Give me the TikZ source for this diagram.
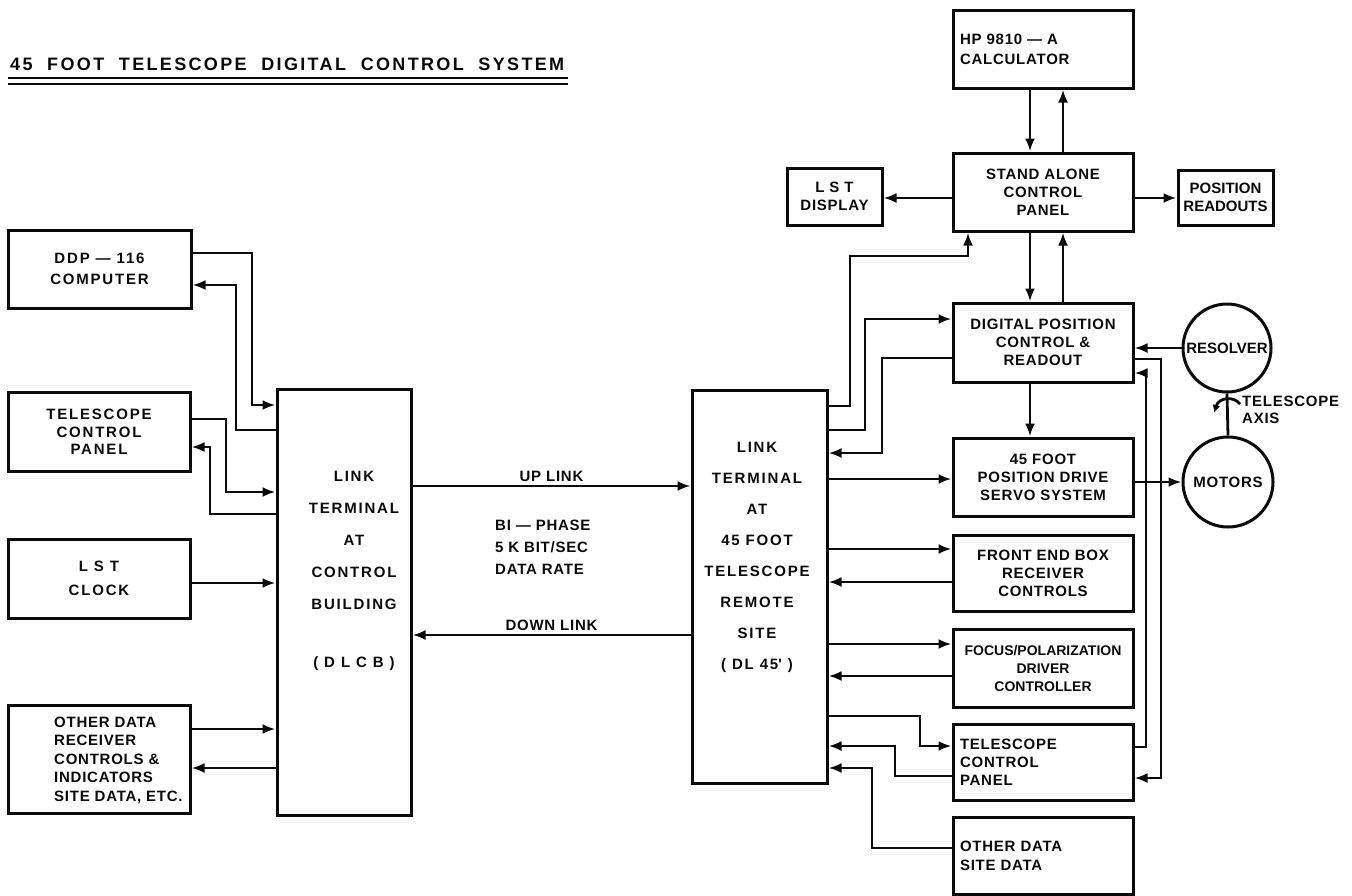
\documentclass[tikz,border=0pt]{standalone}
\usepackage{fontspec}
\setmainfont{Liberation Sans}
\newfontfamily\plainlet[LetterSpace=5]{Liberation Sans}
\newfontfamily\widelet[LetterSpace=12]{Liberation Sans}
\newfontfamily\titlelet[LetterSpace=13,WordSpace=2]{Liberation Sans}
\usetikzlibrary{arrows.meta,positioning}
\definecolor{Ink}{HTML}{0A0A0A}
\tikzset{
  unit/.style={draw=Ink, line width=3pt, inner sep=7pt, align=center, text=Ink,
               font=\plainlet\bfseries\fontsize{15pt}{18pt}\selectfont, minimum width=180pt},
  tall/.style={draw=Ink, line width=3pt, inner sep=0pt},
  disc/.style={circle, draw=Ink, line width=3pt, inner sep=0pt, text=Ink,
               font=\plainlet\bfseries\fontsize{15pt}{18pt}\selectfont},
  tag/.style={inner sep=2pt, text=Ink, font=\plainlet\bfseries\fontsize{15pt}{18pt}\selectfont},
  widetag/.style={inner sep=0pt, text=Ink, align=center, font=\widelet\bfseries\fontsize{15pt}{18pt}\selectfont},
  wire/.style={draw=Ink, line width=2.8pt},
  feed/.style={wire, -{Latex[length=13pt,width=10pt]}},
}

\begin{document}
\begin{tikzpicture}[x=1pt, y=-1pt]
  \useasboundingbox (0,0) rectangle (1352,895);

  % heading
  \node[anchor=base west, inner sep=0pt, text=Ink, font=\titlelet\bfseries\fontsize{18pt}{20pt}\selectfont]
    (heading) at (10,70) {45 FOOT TELESCOPE DIGITAL CONTROL SYSTEM};
  \draw[draw=Ink, line width=2.4pt, double, double distance=3.6pt] (8,81) -- (568,81);

  % control building side
  \node[unit, font=\widelet\bfseries\fontsize{15pt}{18pt}\selectfont, minimum width=183pt, minimum height=78pt] (ddp) at (99.5,269) {DDP — 116\\[3pt]COMPUTER};
  \node[unit, font=\widelet\bfseries\fontsize{15pt}{17.5pt}\selectfont, minimum width=182pt, minimum height=79pt] (tcpL) at (99,432) {TELESCOPE\\CONTROL\\PANEL};
  \node[unit, font=\widelet\bfseries\fontsize{15pt}{24pt}\selectfont, minimum width=182pt, minimum height=79pt] (clock) at (99,578.5) {L S T\\CLOCK};
  \node[tall, minimum width=182pt, minimum height=108pt] (otherL) at (99,759) {};
  \node[tag, inner sep=0pt, align=left, anchor=west, font=\plainlet\bfseries\fontsize{15pt}{18.5pt}\selectfont]
    (otherLtxt) at (54,760) {OTHER DATA\\RECEIVER\\CONTROLS \&\\INDICATORS\\SITE DATA, ETC.};

  \node[tall, minimum width=134pt, minimum height=426pt] (dlcb) at (344,602) {};
  \node[widetag, font=\widelet\bfseries\fontsize{15pt}{32pt}\selectfont] (dlcbtxt) at (354,571)
    {LINK\\TERMINAL\\AT\\CONTROL\\BUILDING\\[26pt]( D L C B )};

  \node[tall, minimum width=135pt, minimum height=393pt] (dl45) at (759.5,586.5) {};
  \node[widetag, font=\widelet\bfseries\fontsize{15pt}{31pt}\selectfont] (dl45txt) at (757,557)
    {LINK\\TERMINAL\\AT\\45 FOOT\\TELESCOPE\\REMOTE\\SITE\\( DL 45{\textquotesingle} )};

  % telescope side
  \node[unit, align=left, text width=166pt, font=\plainlet\bfseries\fontsize{15pt}{20pt}\selectfont, minimum height=78pt] (hp) at (1043,49) {HP 9810 — A\\CALCULATOR};
  \node[unit, minimum height=78pt] (sacp) at (1043,192) {STAND ALONE\\CONTROL\\PANEL};
  \node[unit, minimum width=95pt, minimum height=57pt, inner sep=2pt] (lstd) at (834.5,196.5) {L S T\\DISPLAY};
  \node[unit, minimum width=95pt, minimum height=55pt, inner sep=2pt, font=\bfseries\fontsize{15pt}{18pt}\selectfont] (posr) at (1225.5,197.5) {POSITION\\READOUTS};
  \node[unit, minimum height=79pt] (dpc) at (1043,342.5) {DIGITAL POSITION\\CONTROL \&\\READOUT};
  \node[unit, minimum height=78pt] (servo) at (1043,477) {45 FOOT\\POSITION DRIVE\\SERVO SYSTEM};
  \node[unit, minimum height=76pt] (front) at (1043,573) {FRONT END BOX\\RECEIVER\\CONTROLS};
  \node[unit, minimum height=78pt, inner sep=2pt, font=\bfseries\fontsize{14pt}{18pt}\selectfont] (focus) at (1043,668) {FOCUS/POLARIZATION\\DRIVER\\CONTROLLER};
  \node[unit, align=left, text width=166pt, minimum height=76pt] (tcpR) at (1043,762) {TELESCOPE\\CONTROL\\PANEL};
  \node[unit, align=left, text width=166pt, minimum height=77pt, font=\plainlet\bfseries\fontsize{15pt}{19pt}\selectfont] (otherR) at (1043,855.5) {OTHER DATA\\SITE DATA\\[14pt]};
  \node[disc, minimum size=88pt, font=\bfseries\fontsize{15pt}{18pt}\selectfont] (resolver) at (1227,348) {RESOLVER};
  \node[disc, minimum size=90pt] (motors) at (1228,482) {MOTORS};
  \node[tag, inner sep=0pt, align=left, anchor=west, font=\plainlet\bfseries\fontsize{15pt}{17pt}\selectfont] (axislbl) at (1242,410) {TELESCOPE\\AXIS};

  % control building links
  \draw[feed] (ddp.east |- 0,253) -| (252,405) -- (dlcb.west |- 0,405);
  \draw[feed] (dlcb.west |- 0,430) -| (236,285) -- (ddp.east |- 0,285);
  \draw[feed] (tcpL.east |- 0,419) -| (226,492) -- (dlcb.west |- 0,492);
  \draw[feed] (dlcb.west |- 0,514) -| (210,447) -- (tcpL.east |- 0,447);
  \draw[feed] (clock.east |- 0,583) -- (dlcb.west |- 0,583);
  \draw[feed] (otherL.east |- 0,729) -- (dlcb.west |- 0,729);
  \draw[feed] (dlcb.west |- 0,768) -- (otherL.east |- 0,768);

  % up and down link
  \draw[feed] (dlcb.east |- 0,486) -- (dl45.west |- 0,486) node[tag, midway, above=1pt] {UP LINK};
  \draw[feed] (dl45.west |- 0,635) -- (dlcb.east |- 0,635) node[tag, midway, above=1pt] {DOWN LINK};
  \node[tag, inner sep=0pt, align=left, anchor=west, font=\plainlet\bfseries\fontsize{15pt}{22pt}\selectfont]
    (rate) at (495,547) {BI — PHASE\\5 K BIT/SEC\\DATA RATE};

  % telescope site links
  \draw[feed] (hp.south -| 1030,0) -- (sacp.north -| 1030,0);
  \draw[feed] (sacp.north -| 1063,0) -- (hp.south -| 1063,0);
  \draw[feed] (sacp.south -| 1030,0) -- (dpc.north -| 1030,0);
  \draw[feed] (dpc.north -| 1063,0) -- (sacp.south -| 1063,0);
  \draw[feed] (dpc.south -| 1030,0) -- (servo.north -| 1030,0);
  \draw[feed] (sacp.west |- 0,198) -- (lstd.east |- 0,198);
  \draw[feed] (sacp.east |- 0,198) -- (posr.west |- 0,198);
  \draw[feed] (dl45.east |- 0,406) -| (850,256) -| (sacp.south -| 968,0);
  \draw[feed] (dl45.east |- 0,430) -| (865,319) -- (dpc.west |- 0,319);
  \draw[feed] (dpc.west |- 0,358) -| (882,453) -- (dl45.east |- 0,453);
  \draw[feed] (dl45.east |- 0,479) -- (servo.west |- 0,479);
  \draw[feed] (servo.east |- motors.west) -- (motors.west);
  \draw[feed] (resolver.west) -- (dpc.east |- resolver.west);
  \draw[wire] (resolver.south) -- (motors.north);
  \draw[wire, -{Latex[length=8pt,width=8pt]}] (1240,404) .. controls (1234,396) and (1219,397) .. (1214,413);
  \draw[feed] (dpc.east |- 0,359) -| (1161,778) -- (tcpR.east |- 0,778);
  \draw[feed] (tcpR.east |- 0,747) -| (1146,373) -- (dpc.east |- 0,373);
  \draw[feed] (dl45.east |- 0,549) -- (front.west |- 0,549);
  \draw[feed] (front.west |- 0,582) -- (dl45.east |- 0,582);
  \draw[feed] (dl45.east |- 0,644) -- (focus.west |- 0,644);
  \draw[feed] (focus.west |- 0,676) -- (dl45.east |- 0,676);
  \draw[feed] (dl45.east |- 0,716) -| (920,746) -- (tcpR.west |- 0,746);
  \draw[feed] (tcpR.west |- 0,776) -| (895,746) -- (dl45.east |- 0,746);
  \draw[feed] (otherR.west |- 0,848) -| (872,768) -- (dl45.east |- 0,768);
\end{tikzpicture}
\end{document}
